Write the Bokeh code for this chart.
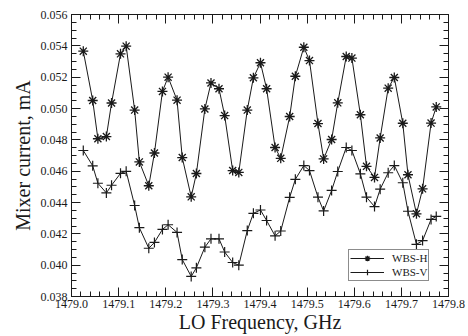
import numpy as np
from bokeh.plotting import figure
from bokeh.models import (Range1d, LinearAxis, FixedTicker,
                          NumeralTickFormatter, Legend, LegendItem)
from bokeh.embed import file_html
from bokeh.resources import INLINE

# LO frequency (GHz)
freq = [1479.025, 1479.045, 1479.056, 1479.074, 1479.085, 1479.104, 1479.116,
        1479.134, 1479.144, 1479.164, 1479.176, 1479.193, 1479.205, 1479.224,
        1479.235, 1479.254, 1479.265, 1479.283, 1479.296, 1479.313, 1479.325,
        1479.342, 1479.355, 1479.373, 1479.386, 1479.401, 1479.414, 1479.432,
        1479.444, 1479.463, 1479.475, 1479.493, 1479.505, 1479.523, 1479.535,
        1479.552, 1479.565, 1479.583, 1479.595, 1479.613, 1479.626, 1479.643,
        1479.655, 1479.672, 1479.685, 1479.703, 1479.714, 1479.732, 1479.745,
        1479.763, 1479.774]

# Mixer current (mA)
wbs_h = [0.05366, 0.05051, 0.04807, 0.04821, 0.05035, 0.05349, 0.05398,
         0.04990, 0.04659, 0.04507, 0.04716, 0.05109, 0.05200, 0.05053,
         0.04687, 0.04436, 0.04585, 0.04997, 0.05163, 0.05126, 0.04955,
         0.04604, 0.04592, 0.04990, 0.05196, 0.05292, 0.05126, 0.04751,
         0.04682, 0.04949, 0.05206, 0.05391, 0.05306, 0.04904, 0.04678,
         0.04802, 0.05036, 0.05332, 0.05322, 0.04960, 0.04631, 0.04560,
         0.04812, 0.05130, 0.05198, 0.04906, 0.04577, 0.04328, 0.04487,
         0.04907, 0.05010]

wbs_v = [0.04732, 0.04634, 0.04523, 0.04461, 0.04510, 0.04586, 0.04599,
         0.04381, 0.04239, 0.04108, 0.04145, 0.04228, 0.04258, 0.04209,
         0.04036, 0.03928, 0.03983, 0.04115, 0.04168, 0.04168, 0.04084,
         0.04017, 0.04000, 0.04221, 0.04331, 0.04352, 0.04285, 0.04187,
         0.04218, 0.04433, 0.04548, 0.04636, 0.04604, 0.04434, 0.04346,
         0.04477, 0.04598, 0.04751, 0.04732, 0.04583, 0.04434, 0.04374,
         0.04485, 0.04590, 0.04636, 0.04526, 0.04344, 0.04133, 0.04157,
         0.04292, 0.04311]

labels = ["WBS-H", "WBS-V"]

# tick values
x_major = [1479.0, 1479.1, 1479.2, 1479.3, 1479.4, 1479.5, 1479.6, 1479.7, 1479.8]
y_major = [0.038, 0.040, 0.042, 0.044, 0.046, 0.048, 0.050, 0.052, 0.054, 0.056]
x_minor = list(np.round(np.arange(x_major[0], x_major[-1] + 1e-9, 0.02), 3))
y_minor = list(np.round(np.arange(y_major[0], y_major[-1] + 1e-12, 0.0005), 5))

FONT = "Liberation Serif"
INK = "#1a1a1a"

p = figure(width=468, height=336, output_backend="svg", toolbar_location=None,
           x_range=Range1d(1479.0, 1479.8), y_range=Range1d(0.038, 0.056),
           min_border_left=71, min_border_top=14, min_border_right=20,
           min_border_bottom=40, x_axis_location=None, y_axis_location=None)
p.xgrid.visible = False
p.ygrid.visible = False
p.outline_line_color = INK
p.outline_line_width = 1
p.background_fill_color = "white"
p.border_fill_color = "white"


def style(ax):
    ax.axis_line_color = INK
    ax.major_tick_line_color = INK
    ax.minor_tick_line_color = INK
    ax.major_tick_out = 0
    ax.minor_tick_out = 0
    ax.major_tick_in = 9
    ax.minor_tick_in = 5
    ax.major_label_text_font = FONT
    ax.major_label_text_color = INK
    ax.major_label_text_font_size = "12px"
    ax.axis_label_text_font = FONT
    ax.axis_label_text_font_style = "normal"
    ax.axis_label_text_color = INK
    ax.axis_label_text_font_size = "20px"
    return ax


xb = style(LinearAxis(ticker=FixedTicker(ticks=x_major, minor_ticks=x_minor),
                      formatter=NumeralTickFormatter(format="0.0")))
xb.axis_label = "LO Frequency, GHz"
xb.major_label_standoff = 3
xb.axis_label_standoff = 0
yl = style(LinearAxis(ticker=FixedTicker(ticks=y_major, minor_ticks=y_minor),
                      formatter=NumeralTickFormatter(format="0.000")))
yl.axis_label = "Mixer current, mA"
yl.major_label_standoff = 4
yl.axis_label_standoff = 4
p.add_layout(xb, "below")
p.add_layout(yl, "left")


def tick_only(ticks, length):
    ax = LinearAxis(ticker=FixedTicker(ticks=[], minor_ticks=ticks))
    ax.axis_line_color = None
    ax.major_tick_line_color = None
    ax.minor_tick_line_color = INK
    ax.minor_tick_out = 0
    ax.minor_tick_in = length
    ax.major_tick_out = 0
    ax.major_tick_in = 0
    ax.major_label_standoff = 0
    ax.axis_label_standoff = 0
    return ax


p.add_layout(tick_only(x_major, 9), "above")
p.add_layout(tick_only(x_minor, 5), "above")
p.add_layout(tick_only(y_major, 9), "right")
p.add_layout(tick_only(y_minor, 5), "right")

lh = p.line(freq, wbs_h, line_color=INK, line_width=1)
sh = p.scatter(freq, wbs_h, marker="asterisk", size=10, line_color=INK, line_width=1.3)
lv = p.line(freq, wbs_v, line_color=INK, line_width=1)
sv = p.scatter(freq, wbs_v, marker="cross", size=10, line_color=INK, line_width=1.2)

legend = Legend(items=[LegendItem(label=labels[0], renderers=[lh, sh]),
                       LegendItem(label=labels[1], renderers=[lv, sv])],
                location=(277, 15))
legend.border_line_color = INK
legend.border_line_width = 1
legend.background_fill_color = "white"
legend.background_fill_alpha = 1
legend.label_text_font = FONT
legend.label_text_font_size = "11px"
legend.label_text_color = INK
legend.glyph_width = 34
legend.glyph_height = 14
legend.label_height = 14
legend.label_standoff = 8
legend.padding = 1
legend.spacing = 0
legend.margin = 0
p.add_layout(legend)

open("out.html", "w").write(file_html(p, INLINE))
